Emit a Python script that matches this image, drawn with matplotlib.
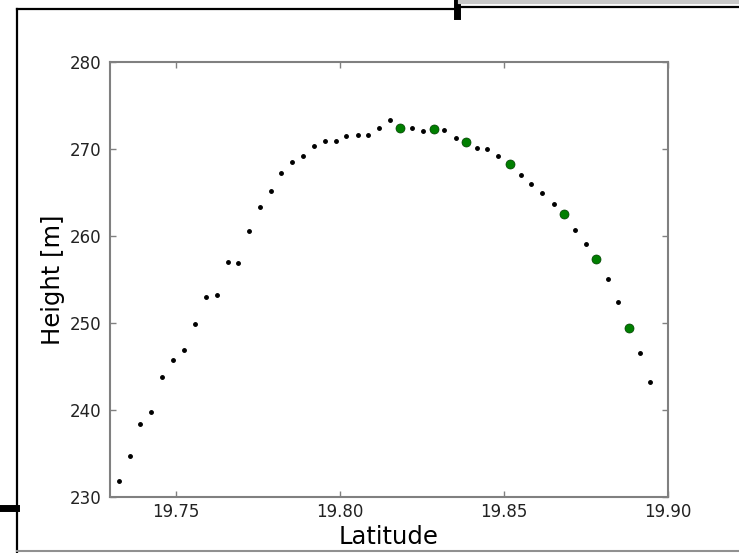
import matplotlib
matplotlib.use("Agg")
import matplotlib.pyplot as plt
from matplotlib.lines import Line2D

# black profile points
lat = [19.7327, 19.7360, 19.7392, 19.7425, 19.7459, 19.7492, 19.7525, 19.7558,
       19.7592, 19.7625, 19.7658, 19.7690, 19.7723, 19.7757, 19.7790, 19.7822,
       19.7855, 19.7887, 19.7923, 19.7955, 19.7988, 19.8020, 19.8055, 19.8087,
       19.8120, 19.8152, 19.8220, 19.8253, 19.8318, 19.8354, 19.8419, 19.8450,
       19.8483, 19.8552, 19.8584, 19.8616, 19.8652, 19.8718, 19.8749, 19.8816,
       19.8849, 19.8914, 19.8946]
height = [231.8, 234.7, 238.4, 239.8, 243.8, 245.7, 246.9, 249.9,
          253.0, 253.2, 257.05, 256.9, 260.6, 263.3, 265.2, 267.2,
          268.5, 269.2, 270.4, 270.95, 270.95, 271.45, 271.6, 271.6,
          272.45, 273.3, 272.45, 272.1, 272.15, 271.23, 270.08, 270.0,
          269.16, 267.05, 266.0, 264.9, 263.7, 260.7, 259.1, 255.1,
          252.45, 246.5, 243.25]

# green selected points
lat_sel = [19.8185, 19.8286, 19.8386, 19.8518, 19.8684, 19.8782, 19.8881]
height_sel = [272.45, 272.33, 270.8, 268.28, 262.56, 257.4, 249.46]

xticks = [19.75, 19.80, 19.85, 19.90]
yticks = [230, 240, 250, 260, 270, 280]

W, H = 739, 553
fig = plt.figure(figsize=(W / 100, H / 100), dpi=100)
ax = fig.add_axes([110 / W, 1 - 497 / H, (668 - 110) / W, (497 - 62) / H])

ax.plot(lat, height, "k.", markersize=5)
ax.plot(lat_sel, height_sel, "o", color="#007f00", markersize=6.5,
        markeredgecolor="#004000", markeredgewidth=0.5)

ax.set_xlim(19.73, 19.90)
ax.set_ylim(230, 280)
ax.set_xticks(xticks)
ax.set_xticklabels(["%.2f" % v for v in xticks])
ax.set_yticks(yticks)

for s in ax.spines.values():
    s.set_color("#808080")
    s.set_linewidth(1.5)
ax.tick_params(direction="in", length=4, width=1, color="#808080",
               labelsize=12, labelcolor="#222222", top=True, right=True)
ax.tick_params(axis="x", pad=4)
ax.tick_params(axis="y", pad=6)

ax.set_xlabel("Latitude", fontsize=17.5, labelpad=3)
ax.set_ylabel("Height [m]", fontsize=17.5, labelpad=3.5)

# window frame around the screenshot
def px_line(xs, ys, **kw):
    fig.add_artist(Line2D([x / W for x in xs], [1 - y / H for y in ys],
                          transform=fig.transFigure, **kw))

px_line([17, 17], [9, 553], color="k", lw=1.6)
px_line([17, 455], [9, 9], color="k", lw=1.6)
px_line([457, 457], [0, 16], color="k", lw=5)
px_line([460, 739], [7, 7], color="k", lw=1.6)
px_line([460, 739], [2, 2], color="#c8c8c8", lw=3)
px_line([0, 16], [508, 508], color="k", lw=5)
px_line([17, 739], [551, 551], color="#909090", lw=1.5)

fig.savefig("out.png", dpi=100)
